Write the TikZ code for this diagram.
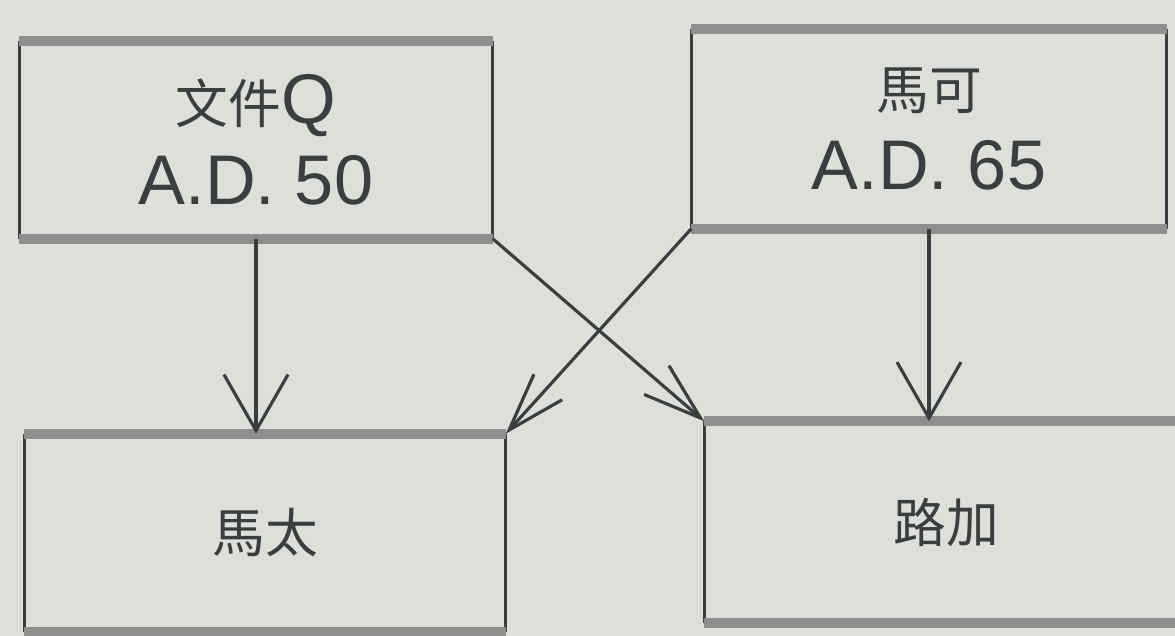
\documentclass[tikz,border=0pt]{standalone}
\usepackage{fontspec}
\setmainfont{Liberation Sans}
\newfontfamily\cjk{Noto Sans CJK TC}
\usetikzlibrary{arrows.meta}
\definecolor{paper}{RGB}{221,223,219}
\definecolor{ink}{RGB}{58,62,60}
\definecolor{rim}{RGB}{142,143,140}
\newcommand{\zh}[1]{{\cjk\fontsize{15}{23}\selectfont #1}}
\tikzset{
  box/.style={minimum width=4.74cm,minimum height=1.98cm,inner sep=0pt,align=center,
    text=ink,font=\fontsize{20}{23}\selectfont},
  side/.style={ink,line width=0.9pt},
  edge/.style={rim,line width=2.8pt},
  flow/.style={-{Straight Barb[length=5.6mm,width=6.4mm]},ink,line width=0.9pt},
  cross/.style={flow,-{Straight Barb[length=5.8mm,width=3.8mm]}}
}

\begin{document}
\begin{tikzpicture}
      \fill[paper] (0,0) rectangle (11.75,6.36);
      \useasboundingbox (0,0) rectangle (11.75,6.36);
      \clip (0,0) rectangle (11.75,6.36);

      \node[box,minimum width=4.72cm,minimum height=1.96cm] (quelle) at (2.56,4.96) {\zh{文件}Q\\A.D. 50};
      \node[box] (mark) at (9.29,5.07) {\zh{馬可}\\A.D. 65};
      \node[box,minimum width=4.8cm,minimum height=1.97cm] (matt) at (2.65,1.03) {\zh{馬太}};
      \node[box,minimum width=4.82cm,minimum height=2cm] (luke) at (9.46,1.14) {\zh{路加}};

      % boxes: dark sides, grey rims
      \foreach \b in {quelle,mark,matt,luke}{
        \draw[side] (\b.north west) -- (\b.south west);
        \draw[side] (\b.north east) -- (\b.south east);
        \draw[edge] (\b.north west) -- (\b.north east);
        \draw[edge] (\b.south west) -- (\b.south east);
      }

      \draw[flow] (quelle.south) -- (quelle.south |- matt.north);
      \draw[flow] (mark.south) -- (mark.south |- luke.north);
      \draw[cross] (quelle.south east) -- (luke.north west);
      \draw[cross] (mark.south west) -- (matt.north east);
    \end{tikzpicture}
\end{document}
